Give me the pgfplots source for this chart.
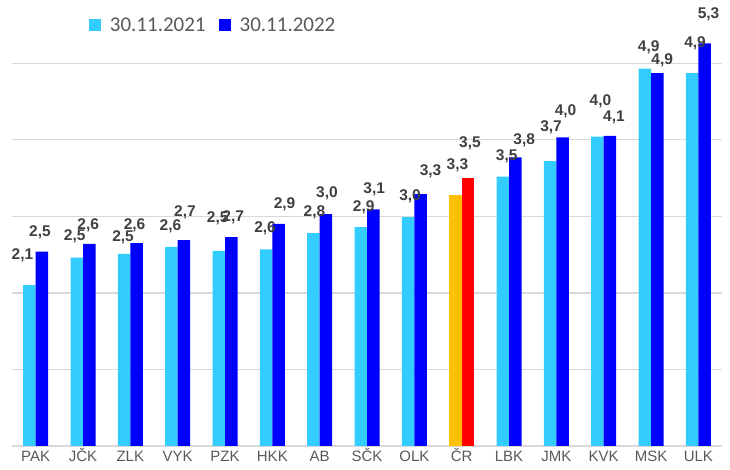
\documentclass[border=0pt]{standalone}
\usepackage{fontspec}
\setmainfont{Liberation Sans}
\newfontfamily\legfont{Carlito}
\usepackage{pgfplots}
\usepackage{pgfplotstable}
\pgfplotsset{compat=1.18}
\definecolor{lb}{HTML}{33CCFF}
\definecolor{db}{HTML}{0000FF}
\definecolor{orng}{HTML}{FFC000}
\definecolor{rd}{HTML}{FF0000}
\definecolor{gridc}{HTML}{D9D9D9}
\definecolor{txt}{HTML}{595959}
\definecolor{lbl}{HTML}{404040}

\pgfplotstableread{
x y lab dx dy
0 2.10 2,1 -7 30
1 2.46 2,5 -2 21
2 2.51 2,5 -1 17
3 2.60 2,6 -1 21
4 2.55 2,5 -1 33
5 2.57 2,6 -1 21
6 2.78 2,8 1 21
7 2.86 2,9 3 20
8 2.99 3,0 2 21
10 3.52 3,5 4 20
11 3.72 3,7 1 34
12 4.04 4,0 3 35
13 4.93 4,9 4 21
14 4.87 4,9 3 30
}\tA

\pgfplotstableread{
x y lab dx dy
0 2.54 2,5 -2 19
1 2.64 2,6 -1 19
2 2.65 2,6 -2 18
3 2.69 2,7 1 28
4 2.73 2,7 2 20
5 2.90 2,9 6 20
6 3.03 3,0 1 21
7 3.09 3,1 1 20
8 3.29 3,3 10 23
10 3.77 3,8 9 17
11 4.03 4,0 3 26
12 4.05 4,1 4 19
13 4.87 4,9 5 13
14 5.26 5,3 4 29
}\tB

\pgfplotstableread{
x y lab dx dy
9 3.28 3,3 2 30
}\tC

\pgfplotstableread{
x y lab dx dy
9 3.50 3,5 2 35
}\tD

\begin{document}
\begin{tikzpicture}
\useasboundingbox (0,0) rectangle (730pt,470pt);
\begin{axis}[
  at={(12pt,24pt)}, anchor=south west,
  scale only axis, width=710pt, height=444pt,
  xmin=-0.5, xmax=14.5, ymin=0, ymax=5.8,
  axis x line*=bottom, axis y line*=left,
  x axis line style={draw=gridc, line width=1.3pt},
  y axis line style={draw=none},
  ytick={1,2,3,4,5}, yticklabels={},
  ymajorgrids, grid style={draw=gridc, line width=1.3pt},
  major tick length=0pt,
  xtick={0,...,14},
  xticklabels={PAK,JČK,ZLK,VYK,PZK,HKK,AB,SČK,OLK,ČR,LBK,JMK,KVK,MSK,ULK},
  xticklabel style={font=\fontsize{15}{17}\selectfont, text=txt, text height=11pt, text depth=3pt, yshift=-1pt},
  ybar, bar width=12.5pt,
  clip=false,
  point meta=explicit symbolic,
  nodes near coords,
  visualization depends on={\thisrow{dx} \as \dx},
  visualization depends on={\thisrow{dy} \as \dy},
  every node near coord/.append style={anchor=center, xshift=\dx pt, yshift=\dy pt,
     font=\bfseries\fontsize{15.5}{17}\selectfont, text=lbl, inner sep=0pt},
  legend style={at={(rel axis cs:0.108,0.948)}, anchor=west, draw=none, fill=none,
     font=\legfont\fontsize{21}{24}\selectfont, text=txt,
     legend columns=2, inner sep=0pt,
     /tikz/every odd column/.append style={column sep=7pt},
     /tikz/every even column/.append style={column sep=11pt}},
  legend image code/.code={\fill[#1] (0pt,-6pt) rectangle (12pt,6pt);},
]
\addplot[fill=lb, draw=none, bar shift=-6.25pt] table[x=x, y=y, meta=lab] {\tA};
\addlegendentry{30.11.2021}
\addplot[fill=db, draw=none, bar shift=6.25pt] table[x=x, y=y, meta=lab] {\tB};
\addlegendentry{30.11.2022}
\addplot[fill=orng, draw=none, bar shift=-6.25pt, forget plot] table[x=x, y=y, meta=lab] {\tC};
\addplot[fill=rd, draw=none, bar shift=6.25pt, forget plot] table[x=x, y=y, meta=lab] {\tD};
\end{axis}
\end{tikzpicture}
\end{document}
